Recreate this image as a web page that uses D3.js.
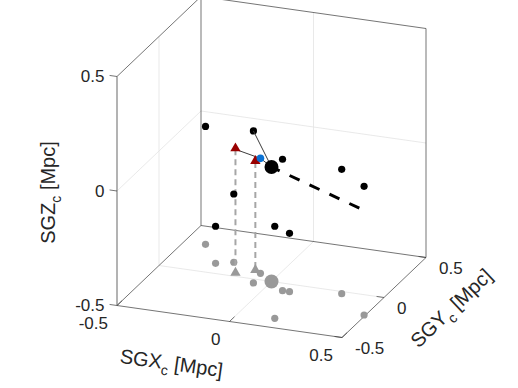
<!DOCTYPE html>
<html>
<head>
<meta charset="utf-8">
<script src="https://cdn.jsdelivr.net/npm/d3@7"></script>
<style>
  body { margin: 0; background: #fff; }
  svg text { font-family: "Liberation Sans", Arial, sans-serif; fill: #262626; }
</style>
</head>
<body>
<div id="chart"></div>
<script>
// satellite positions (SGX, SGY, SGZ in Mpc)
var dotX = [ -0.406, -0.290, -0.224, -0.064, 0.080, 0.111, 0.321, 0.494, 0.162 ];
var dotY = [ 0.302, 0.111, 0.151, -0.044, -0.083, -0.083, -0.024, -0.221, -0.395 ];
var dotZ = [ 0.015, -0.338, -0.202, 0.164, 0.074, -0.245, 0.043, 0.062, -0.098 ];

var triX = [ -0.171, -0.105 ];
var triY = [ 0.029, 0.089 ];
var triZ = [ 0.043, -0.024 ];

var blueXYZ   = [ -0.076, 0.072, 0.002 ];
var centerXYZ = [ 0, 0, 0 ];
var arrowEnd  = [ 0.484, -0.25, -0.025 ];

var tickValues = [ -0.5, 0, 0.5 ];
var tickLabels = [ '-0.5', '0', '0.5' ];

var width  = 518,
    height = 388,
    // screen point of the (-0.5,-0.5,-0.5) corner and one-unit axis vectors
    corner = [ 117, 305.5 ],
    ex = [ 225, 32 ],
    ey = [ 84, -80 ],
    ez = [ 0, -229 ],
    sx = d3.scaleLinear().domain( [ -0.5, 0.5 ] ).range( [ 0, 1 ] ),
    sy = d3.scaleLinear().domain( [ -0.5, 0.5 ] ).range( [ 0, 1 ] ),
    sz = d3.scaleLinear().domain( [ -0.5, 0.5 ] ).range( [ 0, 1 ] ),
    gray = '#999999',
    darkRed = '#990000',
    blue = '#0a72d4';

function project( x, y, z ) {
  var a = sx( x ), b = sy( y ), c = sz( z );
  return [
    corner[ 0 ] + a * ex[ 0 ] + b * ey[ 0 ] + c * ez[ 0 ],
    corner[ 1 ] + a * ex[ 1 ] + b * ey[ 1 ] + c * ez[ 1 ]
  ];
}

var line = d3.line();

var svg = d3.select( '#chart' ).append( 'svg' )
  .attr( 'width', width )
  .attr( 'height', height );

function seg( g, p, q ) {
  return g.append( 'path' ).attr( 'd', line( [ project.apply( null, p ), project.apply( null, q ) ] ) );
}

// grid
var grid = svg.append( 'g' )
  .attr( 'stroke', '#e3e3e3' )
  .attr( 'stroke-width', 0.8 )
  .attr( 'fill', 'none' );

seg( grid, [ 0, -0.5, -0.5 ], [ 0, 0.5, -0.5 ] );
seg( grid, [ -0.5, 0, -0.5 ], [ 0.5, 0, -0.5 ] );
seg( grid, [ 0, 0.5, -0.5 ], [ 0, 0.5, 0.5 ] );
seg( grid, [ -0.5, 0.5, 0 ], [ 0.5, 0.5, 0 ] );
seg( grid, [ -0.5, 0, -0.5 ], [ -0.5, 0, 0.5 ] );
seg( grid, [ -0.5, -0.5, 0 ], [ -0.5, 0.5, 0 ] );

// box
var box = svg.append( 'g' )
  .attr( 'stroke', '#3a3a3a' )
  .attr( 'stroke-width', 0.7 )
  .attr( 'fill', 'none' );

seg( box, [ -0.5, 0.5, -0.5 ], [ -0.5, 0.5, 0.5 ] );
seg( box, [ 0.5, 0.5, -0.5 ], [ 0.5, 0.5, 0.5 ] );
seg( box, [ -0.5, -0.5, 0.5 ], [ -0.5, 0.5, 0.5 ] );
seg( box, [ -0.5, 0.5, 0.5 ], [ 0.5, 0.5, 0.5 ] );
seg( box, [ -0.5, 0.5, -0.5 ], [ 0.5, 0.5, -0.5 ] );
seg( box, [ -0.5, -0.5, -0.5 ], [ -0.5, 0.5, -0.5 ] );
seg( box, [ -0.5, -0.5, -0.5 ], [ 0.5, -0.5, -0.5 ] );
seg( box, [ 0.5, -0.5, -0.5 ], [ 0.5, 0.5, -0.5 ] );
seg( box, [ -0.5, -0.5, -0.5 ], [ -0.5, -0.5, 0.5 ] )
  .attr( 'stroke', '#808080' )
  .attr( 'stroke-width', 1.2 );

// ticks
tickValues.forEach( function( v ) {
  seg( box, [ v, -0.5, -0.5 ], [ v, -0.44, -0.5 ] );
  seg( box, [ 0.5, v, -0.5 ], [ 0.467, v, -0.5 ] );
  seg( box, [ -0.5, -0.5, v ], [ -0.533, -0.5, v ] );
} );

// tick labels
var labels = svg.append( 'g' ).attr( 'font-size', 17 );

tickValues.forEach( function( v, i ) {
  var px = project( v, -0.5, -0.5 ),
      py = project( 0.5, v, -0.5 ),
      pz = project( -0.5, -0.5, v );

  labels.append( 'text' )
    .attr( 'x', px[ 0 ] - 9 ).attr( 'y', px[ 1 ] + 18 )
    .attr( 'text-anchor', 'end' ).attr( 'dominant-baseline', 'central' )
    .text( tickLabels[ i ] );

  labels.append( 'text' )
    .attr( 'x', py[ 0 ] + 13 ).attr( 'y', py[ 1 ] + 11 )
    .attr( 'text-anchor', 'start' ).attr( 'dominant-baseline', 'central' )
    .text( tickLabels[ i ] );

  labels.append( 'text' )
    .attr( 'x', pz[ 0 ] - 12.5 ).attr( 'y', pz[ 1 ] )
    .attr( 'text-anchor', 'end' ).attr( 'dominant-baseline', 'central' )
    .text( tickLabels[ i ] );
} );

// axis titles
function axisTitle( name, x, y, angle ) {
  var t = svg.append( 'text' )
    .attr( 'x', x ).attr( 'y', y )
    .attr( 'font-size', 20 )
    .attr( 'text-anchor', 'middle' )
    .attr( 'transform', 'rotate(' + angle + ',' + x + ',' + y + ')' );
  t.append( 'tspan' ).text( name );
  t.append( 'tspan' ).attr( 'font-size', 14 ).attr( 'dy', 6 ).text( 'c' );
  t.append( 'tspan' ).attr( 'dy', -6 ).text( ' [Mpc]' );
}

axisTitle( 'SGX', 170.5, 370, 8 );
axisTitle( 'SGY', 456, 313, -43.6 );
axisTitle( 'SGZ', 55, 192.5, -90 );

// floor shadows
var shadowData = dotX.map( function( d, i ) { return [ d, dotY[ i ] ]; } );
shadowData.push( [ blueXYZ[ 0 ], blueXYZ[ 1 ] ] );

var shadows = svg.append( 'g' ).attr( 'fill', gray );

shadows.selectAll( 'circle' )
  .data( shadowData )
  .enter().append( 'circle' )
  .attr( 'cx', function( d ) { return project( d[ 0 ], d[ 1 ], -0.5 )[ 0 ]; } )
  .attr( 'cy', function( d ) { return project( d[ 0 ], d[ 1 ], -0.5 )[ 1 ]; } )
  .attr( 'r', 3.6 );

var cFloor = project( centerXYZ[ 0 ], centerXYZ[ 1 ], -0.5 );
shadows.append( 'circle' )
  .attr( 'cx', cFloor[ 0 ] ).attr( 'cy', cFloor[ 1 ] )
  .attr( 'r', 7 );

var tri = d3.symbol().type( d3.symbolTriangle ).size( 46 );

// dashed drops from triangles to floor
triX.forEach( function( x, i ) {
  seg( svg, [ x, triY[ i ], triZ[ i ] ], [ x, triY[ i ], -0.5 ] )
    .attr( 'stroke', '#a6a6a6' )
    .attr( 'stroke-width', 2 )
    .attr( 'stroke-dasharray', '6,4' )
    .attr( 'fill', 'none' );

  var p = project( x, triY[ i ], -0.5 );
  svg.append( 'path' )
    .attr( 'd', tri )
    .attr( 'transform', 'translate(' + p[ 0 ] + ',' + ( p[ 1 ] - 1 ) + ')' )
    .attr( 'fill', gray );
} );

// black satellites
svg.append( 'g' ).selectAll( 'circle' )
  .data( dotX )
  .enter().append( 'circle' )
  .attr( 'cx', function( d, i ) { return project( d, dotY[ i ], dotZ[ i ] )[ 0 ]; } )
  .attr( 'cy', function( d, i ) { return project( d, dotY[ i ], dotZ[ i ] )[ 1 ]; } )
  .attr( 'r', 3.6 )
  .attr( 'fill', '#000' );

// connecting lines
var links = svg.append( 'g' )
  .attr( 'stroke', '#3c3c3c' )
  .attr( 'stroke-width', 1 )
  .attr( 'fill', 'none' );

seg( links, [ dotX[ 3 ], dotY[ 3 ], dotZ[ 3 ] ], centerXYZ );
seg( links, [ triX[ 0 ], triY[ 0 ], triZ[ 0 ] ], blueXYZ );
seg( links, blueXYZ, centerXYZ );

// dashed direction line
seg( svg, centerXYZ, arrowEnd )
  .attr( 'stroke', '#000' )
  .attr( 'stroke-width', 3 )
  .attr( 'stroke-dasharray', '11,11' )
  .attr( 'stroke-dashoffset', 2 )
  .attr( 'fill', 'none' );

// red triangles
triX.forEach( function( x, i ) {
  var p = project( x, triY[ i ], triZ[ i ] );
  svg.append( 'path' )
    .attr( 'd', tri )
    .attr( 'transform', 'translate(' + p[ 0 ] + ',' + ( p[ 1 ] - 1 ) + ')' )
    .attr( 'fill', darkRed );
} );

// central object and blue point
var c0 = project.apply( null, centerXYZ ),
    b0 = project.apply( null, blueXYZ );

svg.append( 'circle' )
  .attr( 'cx', b0[ 0 ] ).attr( 'cy', b0[ 1 ] )
  .attr( 'r', 3.8 )
  .attr( 'fill', blue );

svg.append( 'circle' )
  .attr( 'cx', c0[ 0 ] ).attr( 'cy', c0[ 1 ] )
  .attr( 'r', 7 )
  .attr( 'fill', '#000' );
</script>
</body>
</html>
